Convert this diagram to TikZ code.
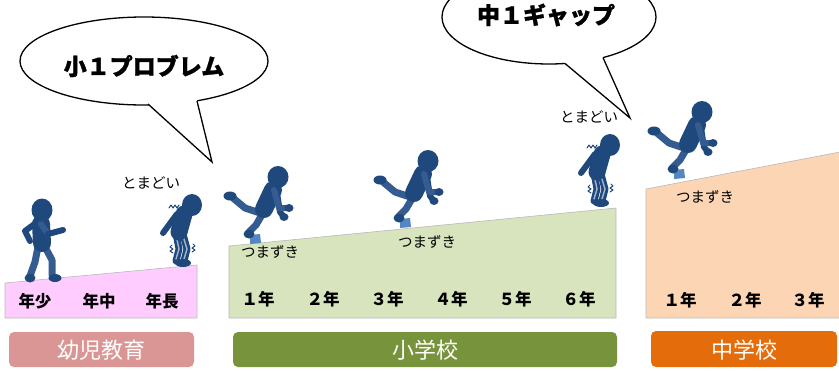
\documentclass[tikz,border=0pt]{standalone}
\usepackage{fontspec}
\newfontfamily\jp{Noto Sans CJK JP}
\newfontfamily\jpheavy{Noto Sans CJK JP}[BoldFeatures={FakeBold=1.2}]
\usetikzlibrary{calc}

\definecolor{figdark}{RGB}{31,73,125}
\definecolor{figmid}{RGB}{52,92,145}
\definecolor{blockblue}{RGB}{84,134,196}
\definecolor{kinderfill}{RGB}{255,204,255}
\definecolor{elemfill}{RGB}{215,228,189}
\definecolor{juniorfill}{RGB}{252,213,181}
\definecolor{kinderbar}{RGB}{217,150,148}
\definecolor{elembar}{RGB}{119,147,60}
\definecolor{juniorbar}{RGB}{228,108,10}

\tikzset{
  limb/.style={line cap=round, line join=round},
  stage/.style={draw=gray!55, line width=0.6pt},
  bar/.style={rounded corners=5pt},
  barlabel/.style={font=\jp\fontsize{22pt}{24pt}\selectfont, text=white, inner sep=0pt},
  yearlabel/.style={font=\jp\bfseries\fontsize{16.5pt}{18pt}\selectfont, inner sep=0pt},
  notelabel/.style={font=\jp\fontsize{14.5pt}{16pt}\selectfont, inner sep=0pt},
  bubble/.style={draw=black, line width=1.3pt, fill=white},
  bubbletext/.style={font=\jpheavy\bfseries\fontsize{23pt}{25pt}\selectfont, inner sep=0pt},
  % stumbling figure, origin at the head
  pics/tripper/.style={code={
    \fill[blockblue] (-28,58) -- (-18,57) -- (-17,66) -- (-28,67) -- cycle;
    \draw[figmid, line width=7pt, limb] (-15,36) -- (-22,48) -- (-29,55);
    \fill[figdark] (-29,57) ellipse [x radius=5.5, y radius=4.5];
    \draw[figmid, line width=7pt, limb] (-18,36) -- (-33,31) -- (-45,21);
    \fill[figdark] (-48,19) ellipse [x radius=6.5, y radius=4.5];
    \draw[figdark, line width=18pt, line cap=round] (-5,13) -- (-14,32);
    \draw[figdark, line width=6pt, limb] (-1,16) -- (2,35) -- (6,40);
    \fill[figdark] (6,40) ellipse [x radius=4.5, y radius=4];
    \draw[figmid, line width=6pt, limb] (-4,13) -- (1,31) -- (10,31);
    \fill[figdark] (11,31) ellipse [x radius=4.5, y radius=4];
    \fill[figdark] (0,0) ellipse [x radius=10.5, y radius=11];
  }},
  % trembling, bent-over figure, origin at the head
  pics/confused/.style={code={
    \draw[figdark, line width=7pt, limb] (-16,28) -- (-13,44) -- (-16,56);
    \draw[figdark, line width=7pt, limb] (-9,29) -- (-5,44) -- (-8,56);
    \draw[white!55!figmid, line width=1.4pt, limb] (-16,30) -- (-13,44) -- (-16,54);
    \draw[white!55!figmid, line width=1.4pt, limb] (-9,31) -- (-5,44) -- (-8,54);
    \fill[figdark] (-9,58) ellipse [x radius=8, y radius=4];
    \draw[figdark, line width=17pt, line cap=round] (-8,9) -- (-13,27);
    \draw[figdark, line width=6pt, limb] (-15,9) -- (-29,28);
    \fill[figdark] (0,0) ellipse [x radius=10, y radius=11];
    \draw[figdark, line width=1pt, limb] (-23,3) -- (-21,0) -- (-19,3) -- (-17,0) -- (-15,3) -- (-13,0);
    \draw[figdark, line width=1pt, limb] (-20,40) -- (-22,42) -- (-19,44) -- (-22,46) -- (-19,48);
    \draw[figdark, line width=1pt, limb] (1,39) -- (3,41) -- (0,43) -- (3,45) -- (0,47);
  }},
  % walking figure, origin at the head
  pics/walker/.style={code={
    \draw[figmid, line width=7pt, limb] (-4,37) -- (-7,52) -- (-12,66);
    \fill[figdark] (-12,68) ellipse [x radius=5.5, y radius=4.5];
    \draw[figmid, line width=7pt, limb] (3,37) -- (10,50) -- (10,65);
    \fill[figdark] (13,68) ellipse [x radius=6.5, y radius=4];
    \draw[figdark, line width=6pt, limb] (-6,13) -- (-17,21) -- (-12,31);
    \draw[figdark, line width=18pt, line cap=round] (-1,14) -- (0,33);
    \draw[figmid, line width=6pt, limb] (-1,14) -- (6,24);
    \draw[figdark, line width=6pt, limb] (6,24) -- (21,20);
    \fill[figdark] (0,0) ellipse [x radius=10.5, y radius=11.5];
  }}
}

\begin{document}
\begin{tikzpicture}[x=1pt, y=-1pt]
\useasboundingbox (0,0) rectangle (839,370);
\clip (0,0) rectangle (839,370);

% school stages as rising slopes
\fill[kinderfill, stage] (5,283) -- (197,265) -- (197,318) -- (5,318) -- cycle;
\fill[elemfill, stage] (229,246) -- (616,208) -- (616,318) -- (229,318) -- cycle;
\fill[juniorfill, stage] (646,189) -- (840,152) -- (840,318) -- (646,318) -- cycle;

% grade labels
\node[yearlabel] (k1) at (35,301) {年少};
\node[yearlabel] (k2) at (99,301) {年中};
\node[yearlabel] (k3) at (162,301) {年長};
\node[yearlabel] (e1) at (258,299) {１年};
\node[yearlabel] (e2) at (323,299) {２年};
\node[yearlabel] (e3) at (387,299) {３年};
\node[yearlabel] (e4) at (451,299) {４年};
\node[yearlabel] (e5) at (515,299) {５年};
\node[yearlabel] (e6) at (579,299) {６年};
\node[yearlabel] (j1) at (680,300) {１年};
\node[yearlabel] (j2) at (745,300) {２年};
\node[yearlabel] (j3) at (808,300) {３年};

% stage bars
\fill[kinderbar, bar] (9,332) rectangle (194,367);
\fill[elembar, bar] (233,332) rectangle (617,367);
\fill[juniorbar, bar] (651,331) rectangle (837,367);
\node[barlabel] (kb) at (101,350) {幼児教育};
\node[barlabel] (eb) at (425,350) {小学校};
\node[barlabel] (jb) at (744,350) {中学校};

% figures
\pic (walk) at (42,210) {walker};
\pic (conf1) at (192,205) {confused};
\pic (trip1) at (278,177) {tripper};
\pic (trip2) at (428,161) {tripper};
\pic (conf2) at (610,145) {confused};
\pic (trip3) at (702,112) {tripper};

% captions near figures
\node[notelabel] (m1) at (151,183) {とまどい};
\node[notelabel] (m2) at (589,117) {とまどい};
\node[notelabel] (s1) at (270,252) {つまずき};
\node[notelabel] (s2) at (427,242) {つまずき};
\node[notelabel] (s3) at (705,197) {つまずき};

% speech bubble: 小１プロブレム
\coordinate (b1c) at (144,61);
\coordinate (b1l) at (148,104);
\coordinate (b1r) at (197,101);
\coordinate (b1t) at (212,162);
\draw[bubble] (b1c) ellipse [x radius=124, y radius=44];
\fill[white] (148,96) -- (b1l) -- (b1t) -- (b1r) -- (197,94) -- cycle;
\draw[line width=1.3pt, line join=miter] (b1l) -- (b1t) -- (b1r);
\node[bubbletext] (b1) at (144,66) {小１プロブレム};

% speech bubble: 中１ギャップ
\coordinate (b2c) at (549,17);
\coordinate (b2l) at (565,63.5);
\coordinate (b2r) at (603,57.6);
\coordinate (b2t) at (630,118);
\draw[bubble] (b2c) ellipse [x radius=107, y radius=47];
\fill[white] (565,56) -- (b2l) -- (b2t) -- (b2r) -- (603,50) -- cycle;
\draw[line width=1.3pt, line join=miter] (b2l) -- (b2t) -- (b2r);
\node[bubbletext] (b2) at (546,15) {中１ギャップ};
\end{tikzpicture}
\end{document}
